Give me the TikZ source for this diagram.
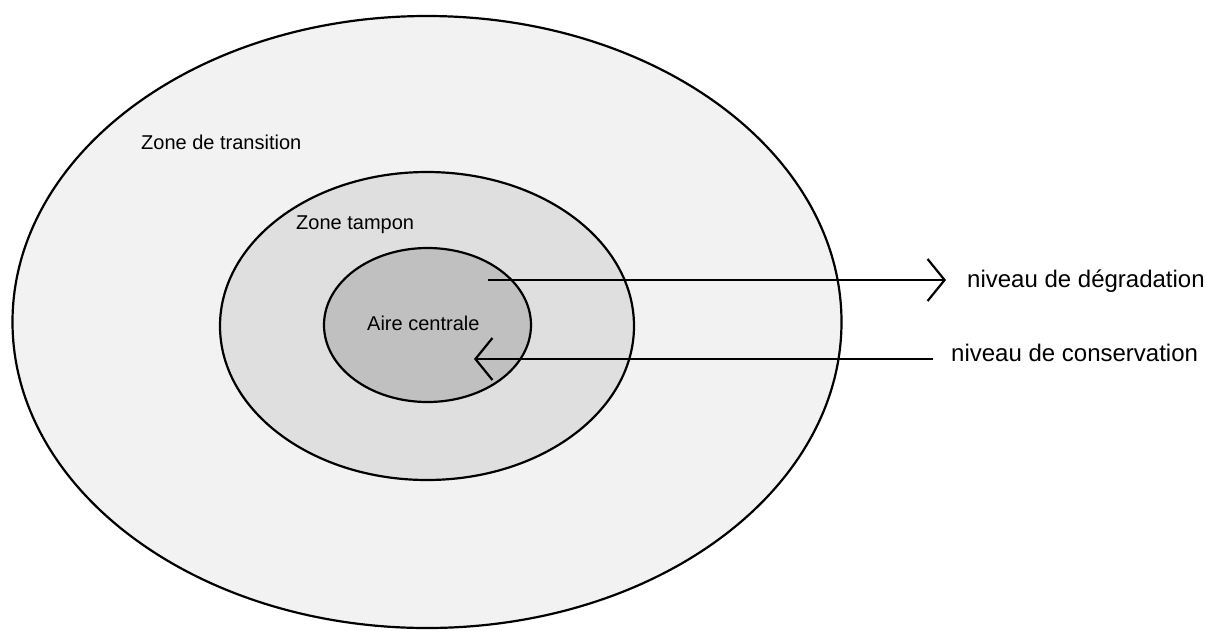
\documentclass[tikz,border=0pt]{standalone}
\usepackage{fontspec}
\setmainfont{Liberation Sans}
\usepackage{tikz}
\usetikzlibrary{arrows.meta, shapes.geometric}

\definecolor{transfill}{HTML}{F2F2F2}
\definecolor{tamponfill}{HTML}{DFDFDF}
\definecolor{airefill}{HTML}{C0C0C0}

\begin{document}
\begin{tikzpicture}[
  x=1pt, y=-1pt,
  zone/.style={draw, ellipse, line width=2.2pt, inner sep=0pt},
  zonelabel/.style={anchor=base west, inner sep=0pt, font=\fontsize{20}{24}\selectfont},
  sidelabel/.style={anchor=base west, inner sep=0pt, font=\fontsize{24}{28}\selectfont},
  arrow/.style={-{Straight Barb[length=17pt, width=42pt]}, line width=2.2pt}
]
  \useasboundingbox (0,0) rectangle (1207,630);

  % the three zones
  \node[zone, fill=transfill, minimum width=829pt, minimum height=612pt] (transition) at (427,322) {};
  \node[zone, fill=tamponfill, minimum width=414pt, minimum height=308pt] (tampon) at (427,326) {};
  \node[zone, fill=airefill, minimum width=207pt, minimum height=154pt] (aire) at (427.5,325) {};

  \node[zonelabel] (translabel) at (141,149) {Zone de transition};
  \node[zonelabel] (tamplabel) at (296,229) {Zone tampon};
  \node[zonelabel] (airelabel) at (367,330) {Aire centrale};

  % levels
  \coordinate (degr from) at (488,280);
  \coordinate (cons to) at (474,359);
  \node[sidelabel] (degr) at (967,287) {niveau de dégradation};
  \node[sidelabel] (cons) at (951,361) {niveau de conservation};

  \draw[arrow, shorten >=21pt] (degr from) -- (degr from -| degr.west);
  \draw[arrow, shorten <=18pt] (cons to -| cons.west) -- (cons to);
\end{tikzpicture}
\end{document}
